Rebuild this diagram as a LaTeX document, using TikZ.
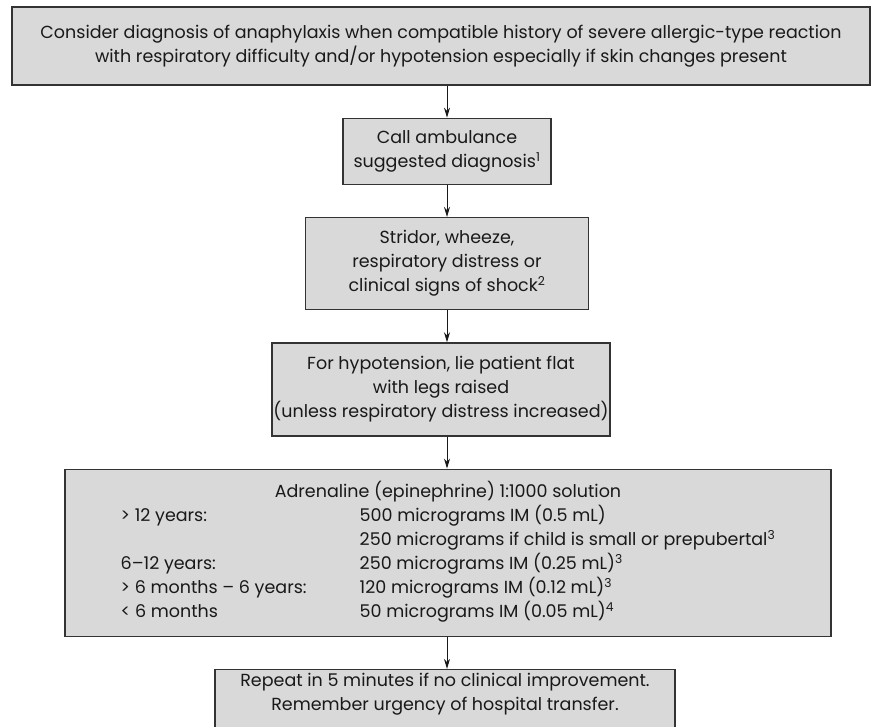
\documentclass[tikz,border=0pt]{standalone}
\usepackage{fontspec}
\setmainfont{Poppins}
\usetikzlibrary{positioning,arrows.meta}
\begin{document}
\begin{tikzpicture}[x=1pt,y=-1pt,
    font=\fontsize{17.5}{24}\selectfont,
    box/.style={draw=black!80,line width=1.3pt,fill=black!15,text=black!90,
      align=center,inner sep=0pt},
    go/.style={-{Stealth[length=10pt,width=6pt]},line width=0.9pt,draw=black!90},
    node distance=32pt]
  \useasboundingbox (0,0) rectangle (871,727);
  \node[box,minimum width=858pt,minimum height=78pt] (top) at (441,46)
    {Consider diagnosis of anaphylaxis when compatible history of severe allergic-type reaction\\
     with respiratory difficulty and/or hypotension especially if skin changes present};
  \node[box,minimum width=208pt,minimum height=66pt,below=of top,xshift=6pt] (amb)
    {Call ambulance\\ suggested diagnosis\textsuperscript{1}};
  \node[box,minimum width=283pt,minimum height=92pt,below=of amb] (str)
    {Stridor, wheeze,\\ respiratory distress or\\ clinical signs of shock\textsuperscript{2}};
  \node[box,minimum width=338pt,minimum height=93pt,below=of str,xshift=-6pt] (hypo)
    {For hypotension, lie patient flat\\ with legs raised\\ (unless respiratory distress increased)};
  \node[box,minimum width=766pt,minimum height=167pt,below=of hypo,xshift=7pt] (adr)
    {\begin{tabular}{@{}p{239pt}@{}l@{}}
       \multicolumn{2}{c}{Adrenaline (epinephrine) 1:1000 solution}\\
       > 12 years:           & 500 micrograms IM (0.5 mL)\\
                             & 250 micrograms if child is small or prepubertal\textsuperscript{3}\\
       6–12 years:           & 250 micrograms IM (0.25 mL)\textsuperscript{3}\\
       > 6 months – 6 years: & 120 micrograms IM (0.12 mL)\textsuperscript{3}\\
       < 6 months            & 50 micrograms IM (0.05 mL)\textsuperscript{4}
     \end{tabular}};
  \node[box,minimum width=460pt,minimum height=100pt,below=of adr,xshift=-3pt] (rep) {};
  \node[anchor=north,align=center,inner sep=0pt,text=black!90] (reptxt)
    at ([yshift=-4pt]rep.north)
    {Repeat in 5 minutes if no clinical improvement.\\ Remember urgency of hospital transfer.};
  % arrows
  \draw[go] (top.south -| amb.north) -- (amb.north);
  \draw[go] (amb.south) -- (str.north);
  \draw[go] (str.south) -- (str.south |- hypo.north);
  \draw[go] (hypo.south -| str.south) -- (str.south |- adr.north);
  \draw[go] (adr.south -| str.south) -- (str.south |- rep.north);
\end{tikzpicture}
\end{document}
